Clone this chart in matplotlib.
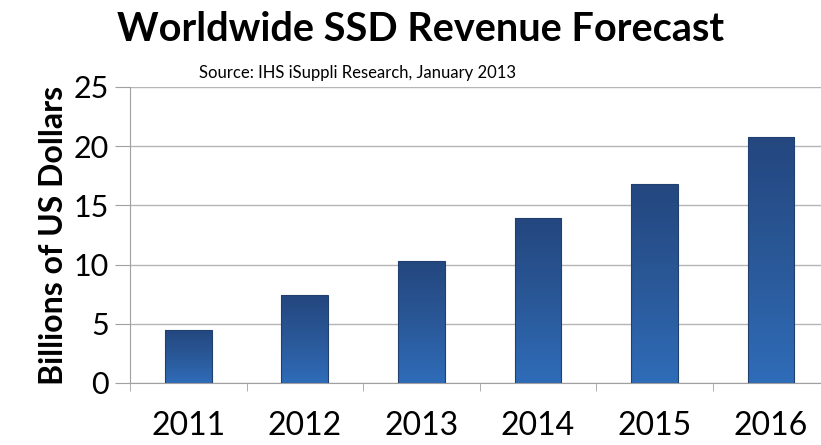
import matplotlib
import numpy as np

matplotlib.use("Agg")
import matplotlib.pyplot as plt
from matplotlib.colors import LinearSegmentedColormap

years = ["2011", "2012", "2013", "2014", "2015", "2016"]
revenue = [4.5, 7.4, 10.3, 13.9, 16.8, 20.8]
y_ticks = [0, 5, 10, 15, 20, 25]

plt.rcParams["font.family"] = ["Lato", "DejaVu Sans"]

fig = plt.figure(figsize=(8.21, 4.45), dpi=100)
ax = fig.add_axes([130 / 821, (445 - 383) / 445, (821 - 130) / 821, (383 - 87) / 445])

x = np.arange(len(years))
width = 0.40
bar_cmap = LinearSegmentedColormap.from_list("bar", ["#2f6cb8", "#2a5898", "#24477f"])
gradient = np.linspace(0, 1, 64).reshape(-1, 1)

bars = ax.bar(x, revenue, width=width, color="none", edgecolor="#22406f", linewidth=0.8, zorder=3)
for bar in bars:
    img = ax.imshow(gradient, cmap=bar_cmap, aspect="auto", origin="lower",
                    extent=[bar.get_x(), bar.get_x() + bar.get_width(), 0, bar.get_height()],
                    zorder=2)
    img.set_clip_path(bar)

ax.set_xlim(-0.5, 5.43)
ax.set_ylim(0, 25)
ax.set_yticks(y_ticks)
ax.set_yticklabels([str(v) for v in y_ticks], fontsize=22)
ax.set_xticks(x)
ax.set_xticklabels(years, fontsize=23)
ax.set_xticks(np.arange(-0.5, 5.5, 1.0), minor=True)
ax.tick_params(axis="x", which="major", length=0, pad=20)
ax.tick_params(axis="x", which="minor", length=6, color="#a0a0a0", direction="out")
ax.tick_params(axis="y", length=11, color="#a0a0a0", pad=4)

ax.grid(axis="y", color="#b5b5b5", linewidth=1.0, zorder=0)
for side in ["top", "right"]:
    ax.spines[side].set_visible(False)
ax.spines["left"].set_color("#a0a0a0")
ax.spines["bottom"].set_color("#a0a0a0")

ax.set_ylabel("Billions of US Dollars", fontsize=23, fontweight="bold", labelpad=4)

fig.text(0.512, 0.975, "Worldwide SSD Revenue Forecast", ha="center", va="top",
         fontsize=28.5, fontweight="bold")
fig.text(0.436, 0.855, "Source: IHS iSuppli Research, January 2013", ha="center", va="top",
         fontsize=12)

fig.savefig("out.png", dpi=100)
